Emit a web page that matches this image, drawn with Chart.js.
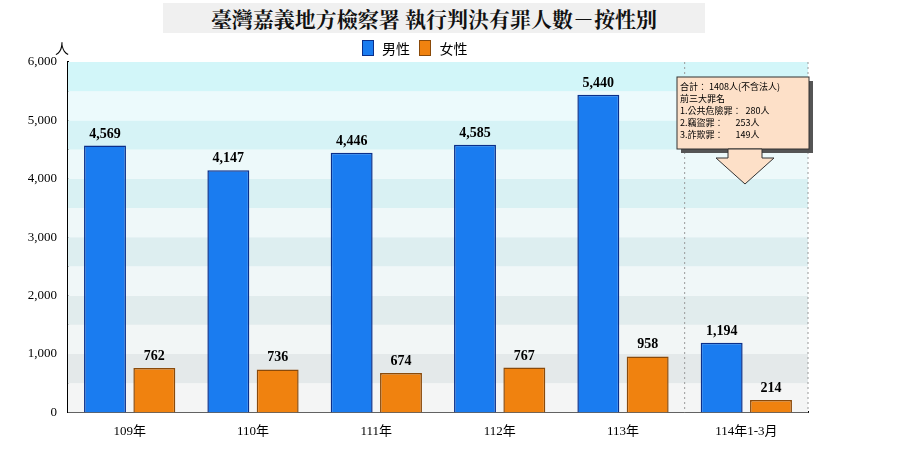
<!DOCTYPE html>
<html><head><meta charset="utf-8">
<script src="https://cdn.jsdelivr.net/npm/chart.js@4"></script>
<style>body{margin:0;background:#fff;font-family:"Noto Sans CJK TC",serif}
#t{position:absolute;left:163px;top:3px;width:542px;height:30px;background:#f0f0f0;font:bold 21px "Noto Serif CJK TC","Noto Sans CJK TC";text-align:center;line-height:30px;color:#111}
#u{position:absolute;left:55px;top:38px;font:14px "Noto Sans CJK TC"}
#lg{position:absolute;left:362px;top:38px;font:14px "Noto Sans CJK TC"}
#lg span.b{display:inline-block;width:10px;height:14px;vertical-align:-2px;margin-right:8px;border:1px solid #333}
</style></head><body>
<div id="t">臺灣嘉義地方檢察署 執行判決有罪人數－按性別</div>
<div id="u">人</div>
<div id="lg"><span class="b" style="background:#1a7cf0;border-color:#0a2f8a"></span>男性 &nbsp;&nbsp;<span class="b" style="background:#f0820f;border-color:#8a4a0a"></span>女性</div>
<canvas id="c" width="900" height="450" style="width:900px;height:450px"></canvas>
<script>
const categories=["109年","110年","111年","112年","113年","114年1-3月"];
const male=[4569,4147,4446,4585,5440,1194];
const female=[762,736,674,767,958,214];
const noteLines=["合計： 1408人(不含法人)","前三大罪名","1.公共危險罪：  280人","2.竊盜罪：      253人","3.詐欺罪：      149人"];
const bg={id:'bg',beforeDatasetsDraw(ch){const {ctx,chartArea:a,scales:{x,y}}=ch;ctx.save();
for(let v=0;v<6000;v+=500){const t=y.getPixelForValue(v+500),b=y.getPixelForValue(v);const f=v/6000;
const odd=(v/500)%2===1;const c1=[208+ (230-208)*(1-f),247+(232-247)*(1-f),251+(232-251)*(1-f)];
const c=odd?c1:c1.map(q=>q+(255-q)*0.55);ctx.fillStyle=`rgb(${c.map(Math.round).join(',')})`;ctx.fillRect(a.left,t,a.right-a.left,b-t);}
ctx.strokeStyle='#999';ctx.setLineDash([2,3]);const xs=(x.getPixelForValue(4)+x.getPixelForValue(5))/2;
[xs,a.right].forEach(p=>{ctx.beginPath();ctx.moveTo(p,a.top);ctx.lineTo(p,a.bottom);ctx.stroke();});ctx.restore();},
afterDatasetsDraw(ch){const {ctx}=ch;ctx.save();
ch.data.datasets.forEach((d,i)=>ch.getDatasetMeta(i).data.forEach((e,j)=>{ctx.font='bold 14px "Liberation Serif"';ctx.fillStyle='#000';ctx.textAlign='center';ctx.fillText(d.data[j].toLocaleString('en-US'),e.x,e.y-8);}));
const bx=677,by=77,bw=132,bh=72;ctx.fillStyle='#555';ctx.fillRect(bx+4,by+4,bw,bh);
ctx.fillStyle='#fde0c8';ctx.strokeStyle='#333';ctx.lineWidth=1;ctx.fillRect(bx,by,bw,bh);ctx.strokeRect(bx,by,bw,bh);
ctx.beginPath();ctx.moveTo(728,by+bh);ctx.lineTo(728,158);ctx.lineTo(716,158);ctx.lineTo(745,184);ctx.lineTo(774,158);ctx.lineTo(762,158);ctx.lineTo(762,by+bh);ctx.closePath();ctx.fillStyle='#fde0c8';ctx.fill();ctx.stroke();
ctx.fillStyle='#000';ctx.textAlign='left';ctx.font='9px "Noto Sans CJK TC"';noteLines.forEach((l,i)=>ctx.fillText(l,bx+3,by+13+i*12));
ctx.restore();}};
new Chart(document.getElementById('c'),{type:'bar',data:{labels:categories,datasets:[
{label:'男性',data:male,backgroundColor:'#1a7cf0',borderColor:'#0a2f8a',borderWidth:1.5},
{label:'女性',data:female,backgroundColor:'#f0820f',borderColor:'#8a4a0a',borderWidth:1.5}]},
options:{responsive:false,animation:false,layout:{padding:{top:62,right:92,bottom:8}},
datasets:{bar:{categoryPercentage:0.8,barPercentage:0.85}},
plugins:{legend:{display:false},tooltip:{enabled:false}},
scales:{x:{grid:{display:false},border:{color:'#000',width:2},ticks:{color:'#000',font:{size:13,family:'"Liberation Serif","Noto Sans CJK TC"'}}},
y:{min:0,max:6000,afterFit(s){s.width=68},grid:{display:false,drawTicks:true},border:{color:'#000',width:2},ticks:{stepSize:1000,color:'#000',font:{size:13,family:'"Liberation Serif"'},callback:v=>v.toLocaleString('en-US')}}}},
plugins:[bg]});
</script></body></html>
